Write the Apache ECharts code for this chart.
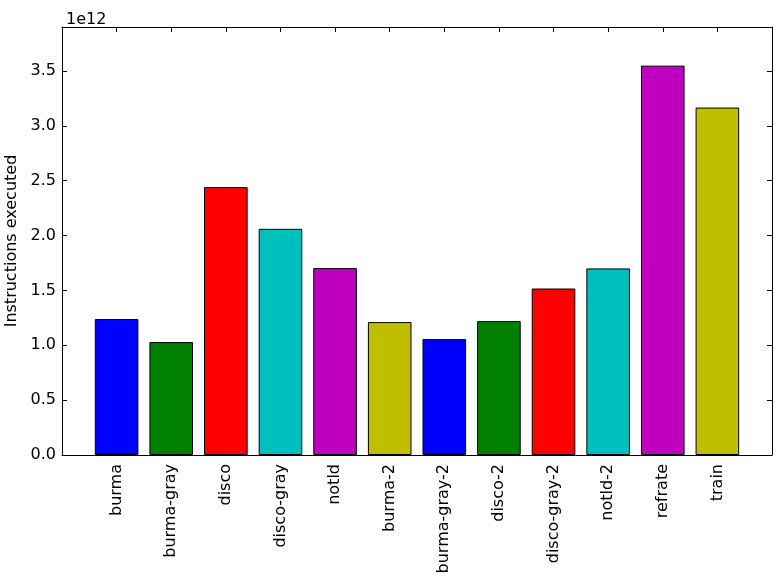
<!DOCTYPE html>
<html>
<head>
<meta charset="utf-8">
<script src="https://cdn.jsdelivr.net/npm/echarts@6/dist/echarts.min.js"></script>
<style>
  html, body { margin: 0; padding: 0; background: #fff; }
  #chart { width: 781px; height: 582px; }
</style>
</head>
<body>
<div id="chart"></div>
<script>
// benchmark names and instruction counts (x 1e12)
const names = ['burma', 'burma-gray', 'disco', 'disco-gray', 'notld', 'burma-2',
  'burma-gray-2', 'disco-2', 'disco-gray-2', 'notld-2', 'refrate', 'train']
const instructions = [1.239, 1.029, 2.441, 2.061, 1.703, 1.211, 1.056, 1.22, 1.517, 1.70, 3.548, 3.166]
const barColors = ['#0000ff', '#008000', '#ff0000', '#00bfbf', '#bf00bf', '#bfbf00']
const yTicks = [0, 0.5, 1.0, 1.5, 2.0, 2.5, 3.0, 3.5]

const SCALE = 1e12
const font = 'DejaVu Sans'

const chart = echarts.init(document.getElementById('chart'), null, { renderer: 'canvas' })

const frameLine = { show: true, onZero: false, lineStyle: { color: '#000', width: 1 } }
const innerTick = { show: true, inside: true, length: 5, lineStyle: { color: '#000', width: 1 } }

const option = {
  animation: false,
  backgroundColor: '#fff',
  grid: { left: 62, right: 9, top: 27, bottom: 127, containLabel: false, outerBoundsMode: 'none' },
  title: {
    text: '1e12',
    left: 61,
    top: 7,
    textStyle: { fontFamily: font, fontSize: 16, fontWeight: 'normal', color: '#000' },
  },
  xAxis: [
    {
      type: 'value',
      min: -1,
      max: 12,
      interval: 1,
      axisLine: frameLine,
      axisTick: innerTick,
      splitLine: { show: false },
      axisLabel: {
        rotate: 90,
        margin: 9,
        color: '#000',
        fontFamily: font,
        fontSize: 16,
        formatter: (v) => names[v] ?? '',
      },
    },
    {
      type: 'value',
      position: 'top',
      min: -1,
      max: 12,
      interval: 1,
      axisLine: frameLine,
      axisTick: innerTick,
      axisLabel: { show: false },
      splitLine: { show: false },
    },
  ],
  yAxis: [
    {
      type: 'value',
      min: 0,
      max: 3.9 * SCALE,
      interval: 0.5 * SCALE,
      name: 'Instructions executed',
      nameLocation: 'middle',
      nameGap: 39,
      nameTextStyle: { fontFamily: font, fontSize: 16, color: '#000' },
      axisLine: frameLine,
      axisTick: innerTick,
      splitLine: { show: false },
      axisLabel: {
        showMaxLabel: false,
        margin: 6,
        color: '#000',
        fontFamily: font,
        fontSize: 16,
        formatter: (v) => {
          const t = yTicks.find((k) => Math.abs(k * SCALE - v) < 1)
          return t === undefined ? '' : t.toFixed(1)
        },
      },
    },
    {
      type: 'value',
      position: 'right',
      min: 0,
      max: 3.9 * SCALE,
      interval: 0.5 * SCALE,
      axisLine: frameLine,
      axisTick: innerTick,
      axisLabel: { show: false },
      splitLine: { show: false },
    },
  ],
  series: [
    {
      type: 'bar',
      xAxisIndex: 0,
      yAxisIndex: 0,
      barWidth: 43.6,
      data: instructions.map((v, i) => ({
        value: [i, v * SCALE],
        itemStyle: {
          color: barColors[i % barColors.length],
          borderColor: '#000',
          borderWidth: 1,
        },
      })),
    },
  ],
}

chart.setOption(option)
</script>
</body>
</html>
